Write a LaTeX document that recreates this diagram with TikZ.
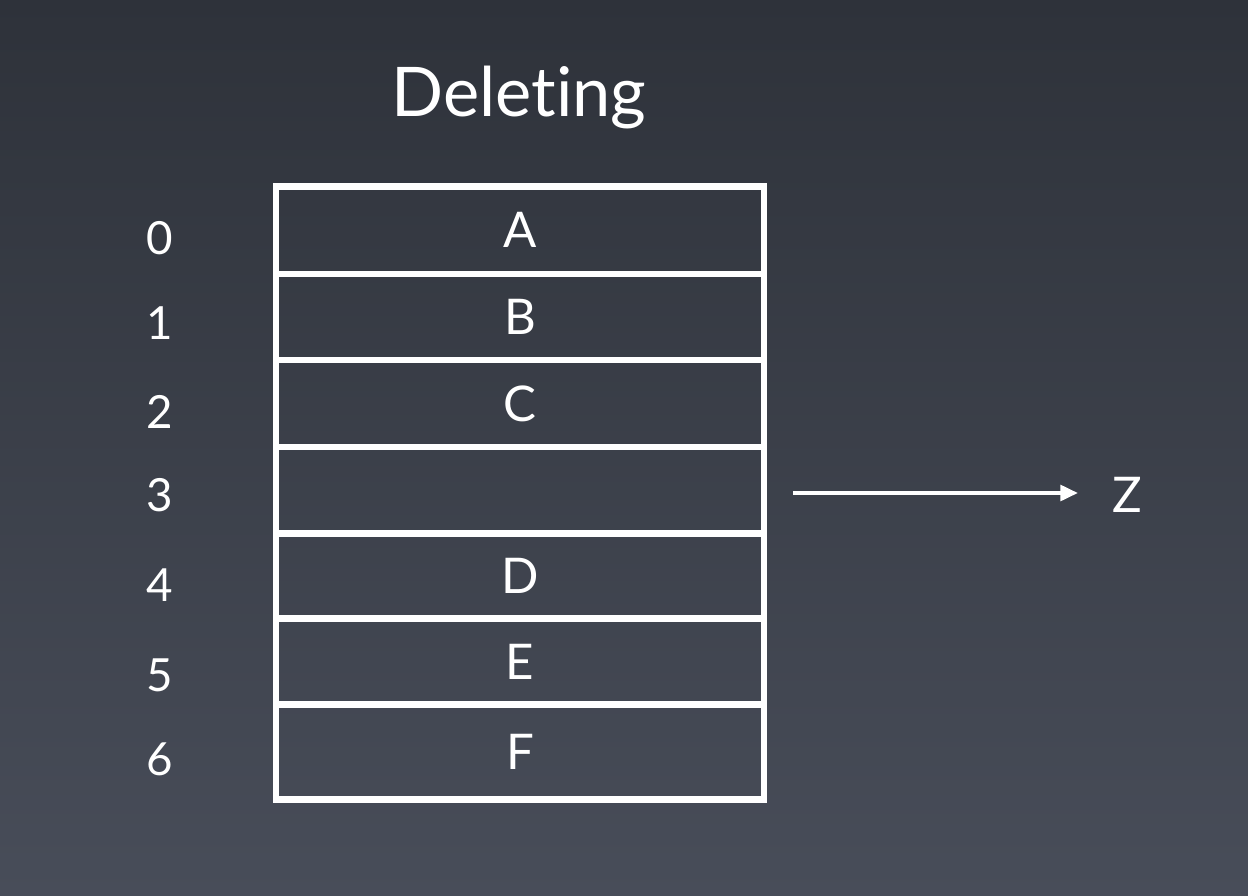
\documentclass[tikz,border=0pt]{standalone}
\usepackage{fontspec}
\setmainfont{Lato}[Ligatures={NoCommon,NoRare}]
\usetikzlibrary{arrows.meta,positioning}

\definecolor{fundoTopo}{RGB}{46,50,58}
\definecolor{fundoBase}{RGB}{72,77,89}

\tikzset{
  celula/.style={draw=white, line width=3.8pt, minimum width=9.76cm, inner sep=0pt,
                 text=white, font=\fontsize{28}{30}\selectfont},
  indice/.style={text=white, font=\fontsize{26}{28}\selectfont},
  seta/.style={-{Triangle[length=10pt,width=9pt]}, white, line width=2pt}
}

\begin{document}
\begin{tikzpicture}[x=0.02cm,y=-0.02cm]

% fundo com degrade
\shade[top color=fundoTopo, bottom color=fundoBase] (0,0) rectangle (1248,896);
\useasboundingbox (0,0) rectangle (1248,896);

% titulo
\node[text=white, font=\fontsize{39}{42}\selectfont] (titulo) at (519,98) {Deleting};

% celulas do array
\foreach \i/\t/\yc/\h in {0/A/230.25/87.5, 1/B/317/86, 2/C/403.5/87, 3/{}/490.25/86.5,
                          4/D/576/85, 5/E/661.5/86, 6/F/752/95}
  \node[celula, minimum height=\h*0.02cm] (c\i) at (520,\yc) {\raisebox{-5pt}{\t}};

% indices
\foreach \i/\yc in {0/238, 1/323, 2/412, 3/495, 4/585, 5/675, 6/759}
  \node[indice] (n\i) at (160,\yc) {\i};

% elemento removido
\node[text=white, font=\fontsize{28}{30}\selectfont] (z) at (1127,495) {Z};
\coordinate (saida) at (793,493);
\draw[seta] (saida) -- (z.west |- saida) [shorten >=16pt];

\end{tikzpicture}
\end{document}
